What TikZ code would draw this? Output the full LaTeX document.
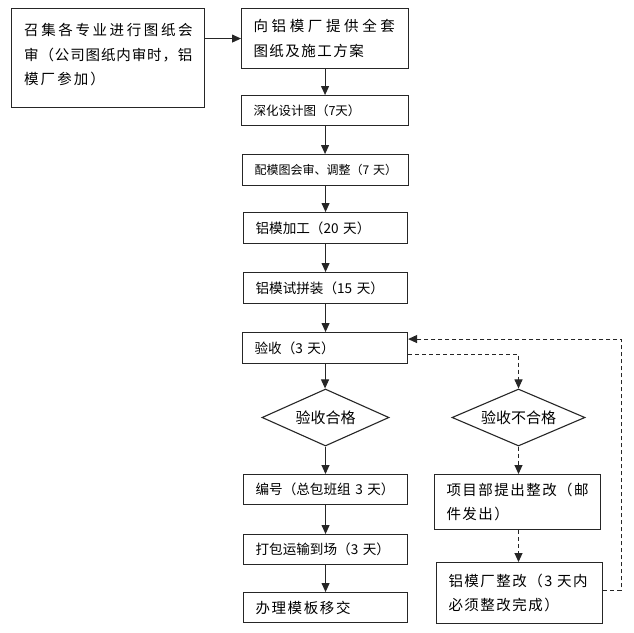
\documentclass[tikz,border=0pt]{standalone}
\usepackage{fontspec}
\newfontfamily\cjk{Noto Sans CJK SC}
\usetikzlibrary{shapes.geometric,arrows.meta,calc}
\newcommand{\ls}[1]{\addfontfeature{LetterSpace=#1}}
\begin{document}
\begin{tikzpicture}[x=1pt,y=-1pt,
  box/.style={draw=black!85, line width=1.1pt, anchor=north west, inner xsep=12pt, inner ysep=0pt, align=left,
    font=\cjk\fontsize{13.6}{24}\selectfont},
  small/.style={font=\cjk\fontsize{12}{24}\selectfont},
  spaced/.style={font=\cjk\fontsize{14.5}{24}\selectfont\addfontfeature{LetterSpace=#1}},
  txt/.style={anchor=north west, inner sep=0pt, align=left},
  dia/.style={draw=black!85, line width=1.1pt, shape=diamond, aspect=2.2, inner sep=0pt,
    minimum height=57pt, font=\cjk\fontsize{15}{18}\selectfont},
  arr/.style={draw=black!85, line width=1pt, -{Triangle[length=9pt,width=8pt]}},
  darr/.style={arr, dash pattern=on 4pt off 3pt}
]
\useasboundingbox[fill=white] (0,0) rectangle (634,632);

% left top box
\node[box, minimum width=193pt, minimum height=99pt, text width=0pt, inner xsep=0pt] (b1) at (11,8) {};
\node[txt, font=\cjk\fontsize{14.5}{24.5}\selectfont, text width=185pt] (t1) at (24,23.5)
  {{\ls{18}召集各专业进行图纸会}\\{\ls{6}审（公司图纸内审时，铝}\\{\ls{14}模厂参加）}};

% main column
\node[box, font=\cjk\fontsize{14.5}{24.5}\selectfont, minimum height=60pt, text width=143pt] (b2) at (241,8)
  {{\ls{25}向铝模厂提供全套}\\{\ls{10}图纸及施工方案}};
\node[box, font=\cjk\fontsize{12.5}{24}\selectfont, minimum height=30pt, text width=143pt] (b3) at (241,95) {深化设计图（7天）};
\node[box, small, minimum height=31pt, text width=142pt] (b4) at (242,154) {配模图会审、调整（7~天）};
\node[box, minimum height=31pt, text width=140pt] (b5) at (243,212) {铝模加工（20~天）};
\node[box, minimum height=31pt, text width=140pt] (b6) at (243,272) {铝模试拼装（15~天）};
\node[box, minimum height=31pt, text width=141pt] (b7) at (242,332) {验收（3~天）};

\node[dia, minimum width=127pt] (d1) at (325.5,417.5) {验收合格};
\node[dia, minimum width=133pt] (d2) at (518.5,417.5) {验收不合格};

\node[box, minimum height=30pt, text width=140pt] (b8) at (243,474) {编号（总包班组~3~天）};
\node[box, minimum height=30pt, text width=140pt] (b9) at (243,534) {打包运输到场（3~天）};
\node[box, spaced=11, minimum height=30pt, text width=140pt] (b10) at (243,592) {办理模板移交};

\node[box, spaced=10, minimum height=55pt, text width=142pt] (b11) at (434,474) {项目部提出整改（邮\\件发出）};
\node[box, spaced=10, minimum height=61pt, text width=142pt] (b12) at (436,562) {铝模厂整改（3~天内\\必须整改完成）};

% connectors
\draw[arr] (b1.east |- b2.west) -- (b2.west);
\draw[arr] (b2.south) -- (b2.south |- b3.north);
\draw[arr] (b3.south) -- (b3.south |- b4.north);
\draw[arr] (b4.south) -- (b4.south |- b5.north);
\draw[arr] (b5.south) -- (b5.south |- b6.north);
\draw[arr] (b6.south) -- (b6.south |- b7.north);
\draw[arr] (b7.south) -- (b7.south |- d1.north);
\draw[arr] (d1.south) -- (d1.south |- b8.north);
\draw[arr] (b8.south) -- (b8.south |- b9.north);
\draw[arr] (b9.south) -- (b9.south |- b10.north);

\coordinate (o1) at ($(b7.east)+(0,6)$);
\coordinate (i1) at ($(b7.east)+(0,-9)$);
\coordinate (r1) at ($(b12.east)+(0,-2.5)$);
\coordinate (rc) at (621,0);
\draw[darr] (o1) -| (d2.north);
\draw[darr] (d2.south) -- (d2.south |- b11.north);
\draw[darr] (b11.south -| d2.south) -- (d2.south |- b12.north);
\draw[darr] (r1) -- (r1 -| rc) -- (i1 -| rc) -- (i1);
\end{tikzpicture}
\end{document}
